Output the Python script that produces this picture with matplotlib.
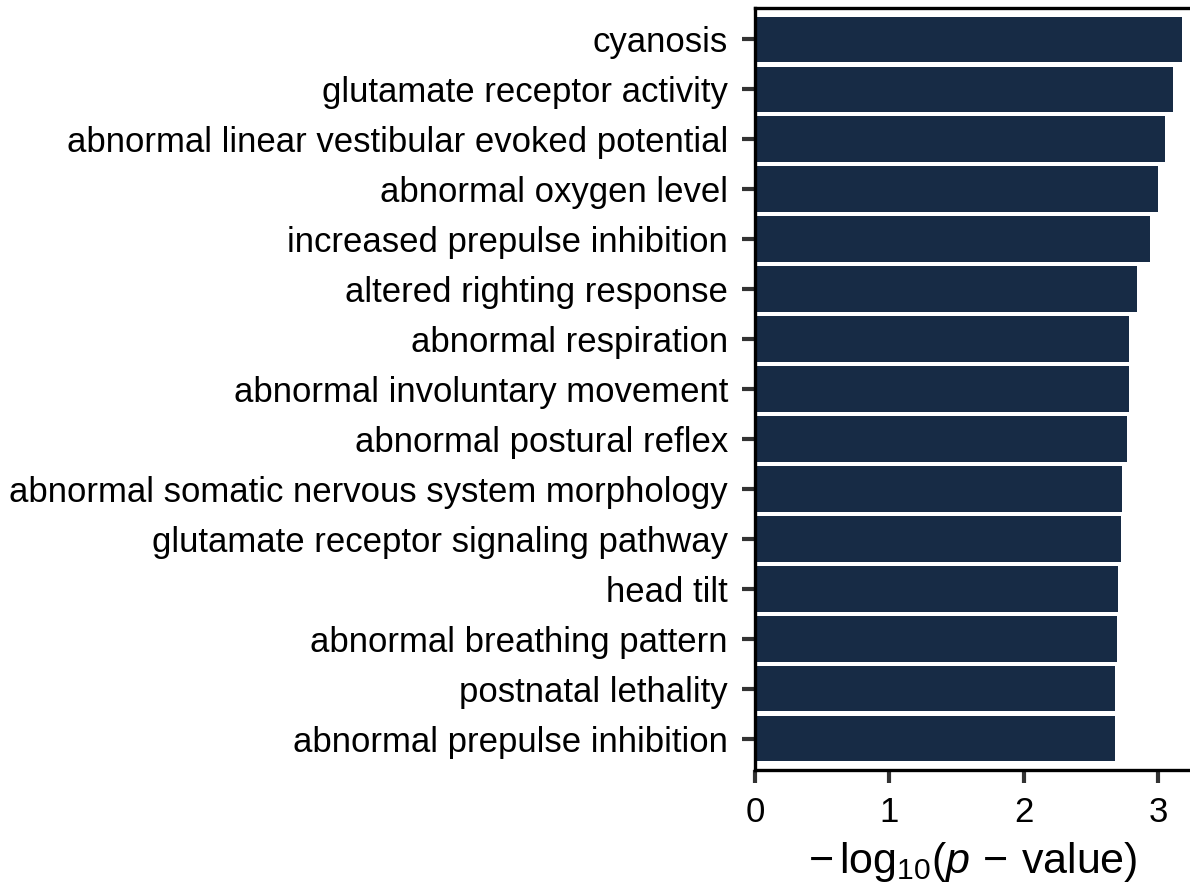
import numpy as np
from matplotlib import pyplot as plt
from matplotlib import rcParams

rcParams["font.family"] = "Liberation Sans"
rcParams["mathtext.fontset"] = "custom"
rcParams["mathtext.rm"] = "Liberation Sans"
rcParams["mathtext.it"] = "Liberation Sans:italic"

# enrichment terms, top to bottom
terms = [
    "cyanosis",
    "glutamate receptor activity",
    "abnormal linear vestibular evoked potential",
    "abnormal oxygen level",
    "increased prepulse inhibition",
    "altered righting response",
    "abnormal respiration",
    "abnormal involuntary movement",
    "abnormal postural reflex",
    "abnormal somatic nervous system morphology",
    "glutamate receptor signaling pathway",
    "head tilt",
    "abnormal breathing pattern",
    "postnatal lethality",
    "abnormal prepulse inhibition",
]
neg_log_p = [3.18, 3.11, 3.05, 3.00, 2.94, 2.84, 2.78, 2.78, 2.77,
             2.73, 2.72, 2.70, 2.69, 2.68, 2.68]

fig = plt.figure(figsize=(11.9, 8.88), dpi=100)
ax = fig.add_axes([755 / 1190, 1 - 770 / 888, 1 - 755 / 1190, (770 - 8.5) / 888])

y = np.arange(len(terms))
ax.barh(y, neg_log_p, height=0.915, color="#172b45")
ax.set_yticks(y)
ax.set_yticklabels(terms)
ax.set_ylim(len(terms) - 0.5 + 0.13, -0.5 - 0.12)
ax.set_xlim(0, 435 / 134.4)
ax.set_xticks([0, 1, 2, 3])

for side in ["left", "bottom", "top"]:
    ax.spines[side].set_linewidth(2.4)
    ax.spines[side].set_color("black")
ax.spines["right"].set_visible(False)

ax.tick_params(axis="both", colors="#333333", labelcolor="black",
               length=9.5, width=3, labelsize=25)
ax.tick_params(axis="y", pad=10)
ax.tick_params(axis="x", pad=9)

ax.set_xlabel(r"$-\,\mathrm{log}_{10}(\mathit{p}\,-\,\mathrm{value})$",
              fontsize=31, labelpad=8)

fig.savefig("out.png", dpi=100)
